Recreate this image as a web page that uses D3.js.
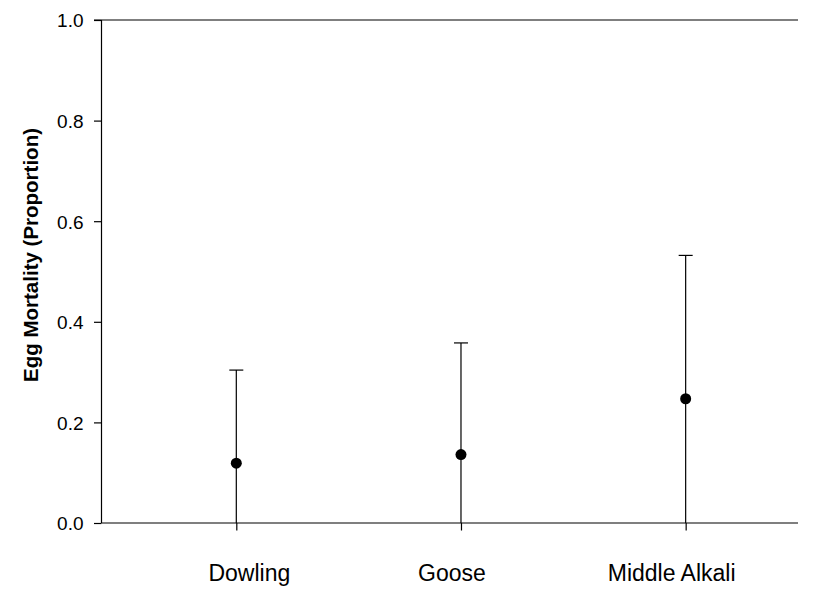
<!DOCTYPE html>
<html>
<head>
<meta charset="utf-8">
<script src="https://cdn.jsdelivr.net/npm/d3@7"></script>
<style>
  body { margin: 0; background: #fff; }
  svg { display: block; }
  text { font-family: "Liberation Sans", Arial, sans-serif; fill: #000; }
</style>
</head>
<body>
<svg id="chart" width="816" height="591"></svg>
<script>
// Egg mortality by site: mean proportion and upper error limit
const sites = ["Dowling", "Goose", "Middle Alkali"];
const meanMortality = [0.119, 0.136, 0.247];
const upperLimit = [0.304, 0.358, 0.532];
const yTicks = [0.0, 0.2, 0.4, 0.6, 0.8, 1.0];

// horizontal nudge of each category label relative to its tick (px)
const labelNudge = [12.5, -9.5, -14.5];

const svg = d3.select("#chart");
const plotLeft = 101.5, plotRight = 798, plotTop = 20, plotBottom = 523;

// sites sit at positions 1, 2, 3 on a continuous x axis
const x = d3.scaleLinear().domain([0.4, 3.5]).range([plotLeft, plotRight]);
const y = d3.scaleLinear().domain([0, 1]).range([plotBottom, plotTop]);

const data = sites.map((s, i) => ({ site: s, pos: i + 1, mean: meanMortality[i], upper: upperLimit[i] }));

// frame: top border line
svg.append("line")
  .attr("x1", plotLeft - 7.5).attr("x2", plotRight)
  .attr("y1", plotTop).attr("y2", plotTop)
  .attr("stroke", "#000").attr("stroke-width", 1.2);

// y axis
const yAxis = svg.append("g")
  .attr("transform", `translate(${plotLeft},0)`)
  .call(d3.axisLeft(y).tickValues(yTicks).tickFormat(d3.format(".1f")).tickSize(7.5).tickPadding(10.5));
yAxis.select(".domain").attr("d", `M0,${plotTop}V${plotBottom}`).attr("stroke-width", 1.2);
yAxis.selectAll(".tick line").attr("stroke-width", 1.2);
yAxis.selectAll("text").style("font-size", "19px").attr("dy", "0.36em");

// x axis
const xAxis = svg.append("g")
  .attr("transform", `translate(0,${plotBottom})`)
  .call(d3.axisBottom(x).tickValues(data.map(d => d.pos)).tickFormat((d, i) => sites[i]).tickSize(7.5).tickPadding(34));
xAxis.select(".domain").attr("d", `M${plotLeft},0H${plotRight}`).attr("stroke-width", 1.2);
xAxis.selectAll(".tick line").attr("stroke-width", 1.2);
xAxis.selectAll("text").style("font-size", "23px").attr("dx", (d, i) => labelNudge[i]);

// error bars, clipped at zero
const g = svg.append("g");
g.selectAll(".err").data(data).join("line")
  .attr("x1", d => x(d.pos)).attr("x2", d => x(d.pos))
  .attr("y1", d => y(d.upper)).attr("y2", y(0))
  .attr("stroke", "#000").attr("stroke-width", 1.2);
g.selectAll(".cap").data(data).join("line")
  .attr("x1", d => x(d.pos) - 7).attr("x2", d => x(d.pos) + 7)
  .attr("y1", d => y(d.upper)).attr("y2", d => y(d.upper))
  .attr("stroke", "#000").attr("stroke-width", 1.2);
g.selectAll("circle").data(data).join("circle")
  .attr("cx", d => x(d.pos)).attr("cy", d => y(d.mean))
  .attr("r", 5.5).attr("fill", "#000");

// y axis title
svg.append("text")
  .attr("transform", `translate(37.5,255) rotate(-90)`)
  .attr("text-anchor", "middle")
  .style("font-size", "20.5px").style("font-weight", "bold")
  .text("Egg Mortality (Proportion)");
</script>
</body>
</html>
